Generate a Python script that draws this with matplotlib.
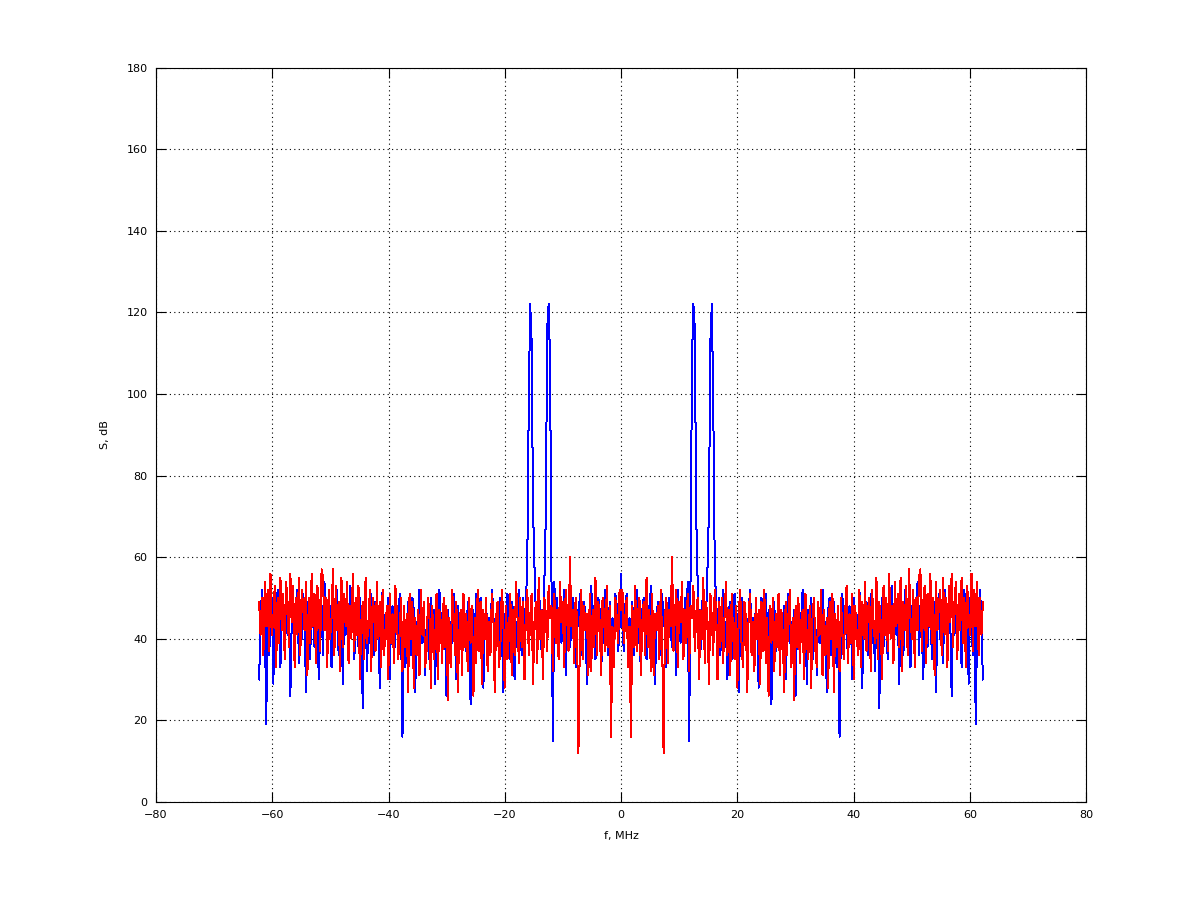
import numpy as np
import matplotlib
matplotlib.use('Agg')
import matplotlib.pyplot as plt

# spectrum, half side (f >= 0), 125 MHz / 512 bins; the negative side mirrors it
s_blue = [56, 43, 37, 48, 51, 34, 45, 40, 49, 36, 46, 52, 39, 44, 31, 47,
          50, 41, 35, 48, 44, 53, 38, 46, 29, 45, 49, 40, 36, 51, 43, 47,
          33, 46, 50, 42, 38, 48, 45, 31, 52, 44, 39, 47, 36, 50, 42, 54,
          15, 55, 108, 122, 116, 70, 54, 43, 37, 48, 51, 40, 46, 58, 72, 113,
          122, 98, 60, 48, 41, 50, 36, 45, 52, 38, 44, 30, 47, 49, 35, 43,
          51, 40, 46, 27, 44, 50, 37, 48, 42, 33, 47, 52, 39, 45, 36, 49,
          43, 28, 46, 50, 38, 44, 51, 35, 47, 41, 24, 45, 49, 37, 43, 50,
          34, 46, 42, 48, 30, 45, 51, 39, 44, 36, 47, 26, 43, 49, 40, 45,
          52, 37, 44, 29, 47, 41, 50, 35, 46, 43, 31, 48, 39, 45, 52, 38,
          44, 27, 47, 50, 36, 43, 49, 40, 33, 46, 16, 44, 51, 38, 47, 42,
          35, 48, 45, 30, 50, 41, 46, 37, 52, 43, 28, 47, 40, 49, 36, 45,
          51, 39, 44, 32, 48, 46, 23, 45, 50, 38, 47, 42, 35, 49, 44, 53,
          37, 46, 41, 50, 29, 45, 48, 36, 52, 43, 40, 47, 33, 46, 51, 39,
          45, 54, 36, 48, 42, 30, 47, 50, 38, 45, 53, 35, 44, 49, 27, 46,
          51, 40, 47, 34, 52, 43, 38, 49, 45, 26, 48, 41, 53, 37, 46, 50,
          33, 45, 52, 39, 47, 29, 50, 43, 36, 48, 19, 46, 41, 52, 44, 30]

s_red = [47, 52, 39, 45, 50, 33, 43, 16, 48, 38, 53, 37, 46, 50, 31, 44,
         49, 36, 55, 38, 47, 32, 51, 31, 46, 42, 48, 35, 52, 40, 12, 45,
         50, 34, 47, 43, 60, 37, 46, 52, 33, 49, 44, 54, 35, 47, 39, 51,
         32, 48, 45, 53, 37, 46, 50, 30, 47, 40, 55, 34, 49, 44, 29, 51,
         45, 36, 52, 47, 30, 49, 38, 50, 34, 46, 54, 36, 47, 31, 51, 41,
         35, 48, 28, 46, 52, 38, 33, 49, 45, 27, 47, 51, 36, 44, 32, 50,
         40, 47, 29, 49, 37, 52, 34, 45, 26, 48, 39, 50, 32, 46, 38, 51,
         31, 47, 41, 27, 49, 36, 46, 52, 33, 45, 25, 48, 38, 50, 34, 44,
         47, 30, 51, 39, 35, 48, 28, 46, 50, 37, 33, 49, 41, 52, 31, 47,
         36, 45, 28, 49, 40, 51, 27, 46, 38, 48, 32, 50, 41, 35, 47, 53,
         34, 46, 39, 51, 30, 48, 42, 36, 52, 33, 49, 40, 54, 37, 47, 50,
         32, 52, 43, 39, 55, 35, 49, 44, 30, 53, 41, 50, 37, 56, 40, 48,
         34, 54, 43, 51, 38, 55, 32, 49, 42, 53, 36, 57, 45, 40, 52, 33,
         50, 42, 55, 57, 37, 49, 53, 34, 51, 43, 56, 39, 50, 31, 54, 42,
         48, 52, 36, 55, 41, 50, 33, 53, 44, 56, 38, 49, 54, 35, 51, 42,
         55, 39, 50, 33, 53, 45, 41, 56, 37, 52, 43, 54, 36, 50, 41, 49]

fs = 125.0   # MHz
nfft = 512
df = fs / nfft

sb = np.array(s_blue, dtype=float)
sr = np.array(s_red, dtype=float)
blue_full = np.concatenate([sb[:0:-1], sb])
red_full = np.concatenate([sr[:0:-1], sr])
n = len(sb)
f = np.arange(-(n - 1), n) * df

plt.rcParams['font.family'] = 'DejaVu Sans'
fig = plt.figure(figsize=(12, 9.01), dpi=100)
ax = fig.add_axes([0.13, 0.11, 0.775, 0.815])

ax.plot(f, blue_full, color='#0000ff', linewidth=0.72, antialiased=False)
ax.plot(f, red_full, color='#ff0000', linewidth=0.72, antialiased=False)

ax.set_xlim(-80, 80)
ax.set_ylim(0, 180)
ax.set_xticks(np.arange(-80, 81, 20))
ax.set_yticks(np.arange(0, 181, 20))
ax.grid(True, color='black', linestyle=(0, (1, 3)), linewidth=0.8)
ax.tick_params(direction='in', length=7.5, width=0.8, top=True, right=True,
               labelsize=8, pad=6)
for sp in ax.spines.values():
    sp.set_linewidth(0.8)

ax.set_xlabel('f, MHz', fontsize=8, labelpad=8)
ax.set_ylabel('S, dB', fontsize=8, labelpad=12)

fig.savefig('out.png', dpi=100)
